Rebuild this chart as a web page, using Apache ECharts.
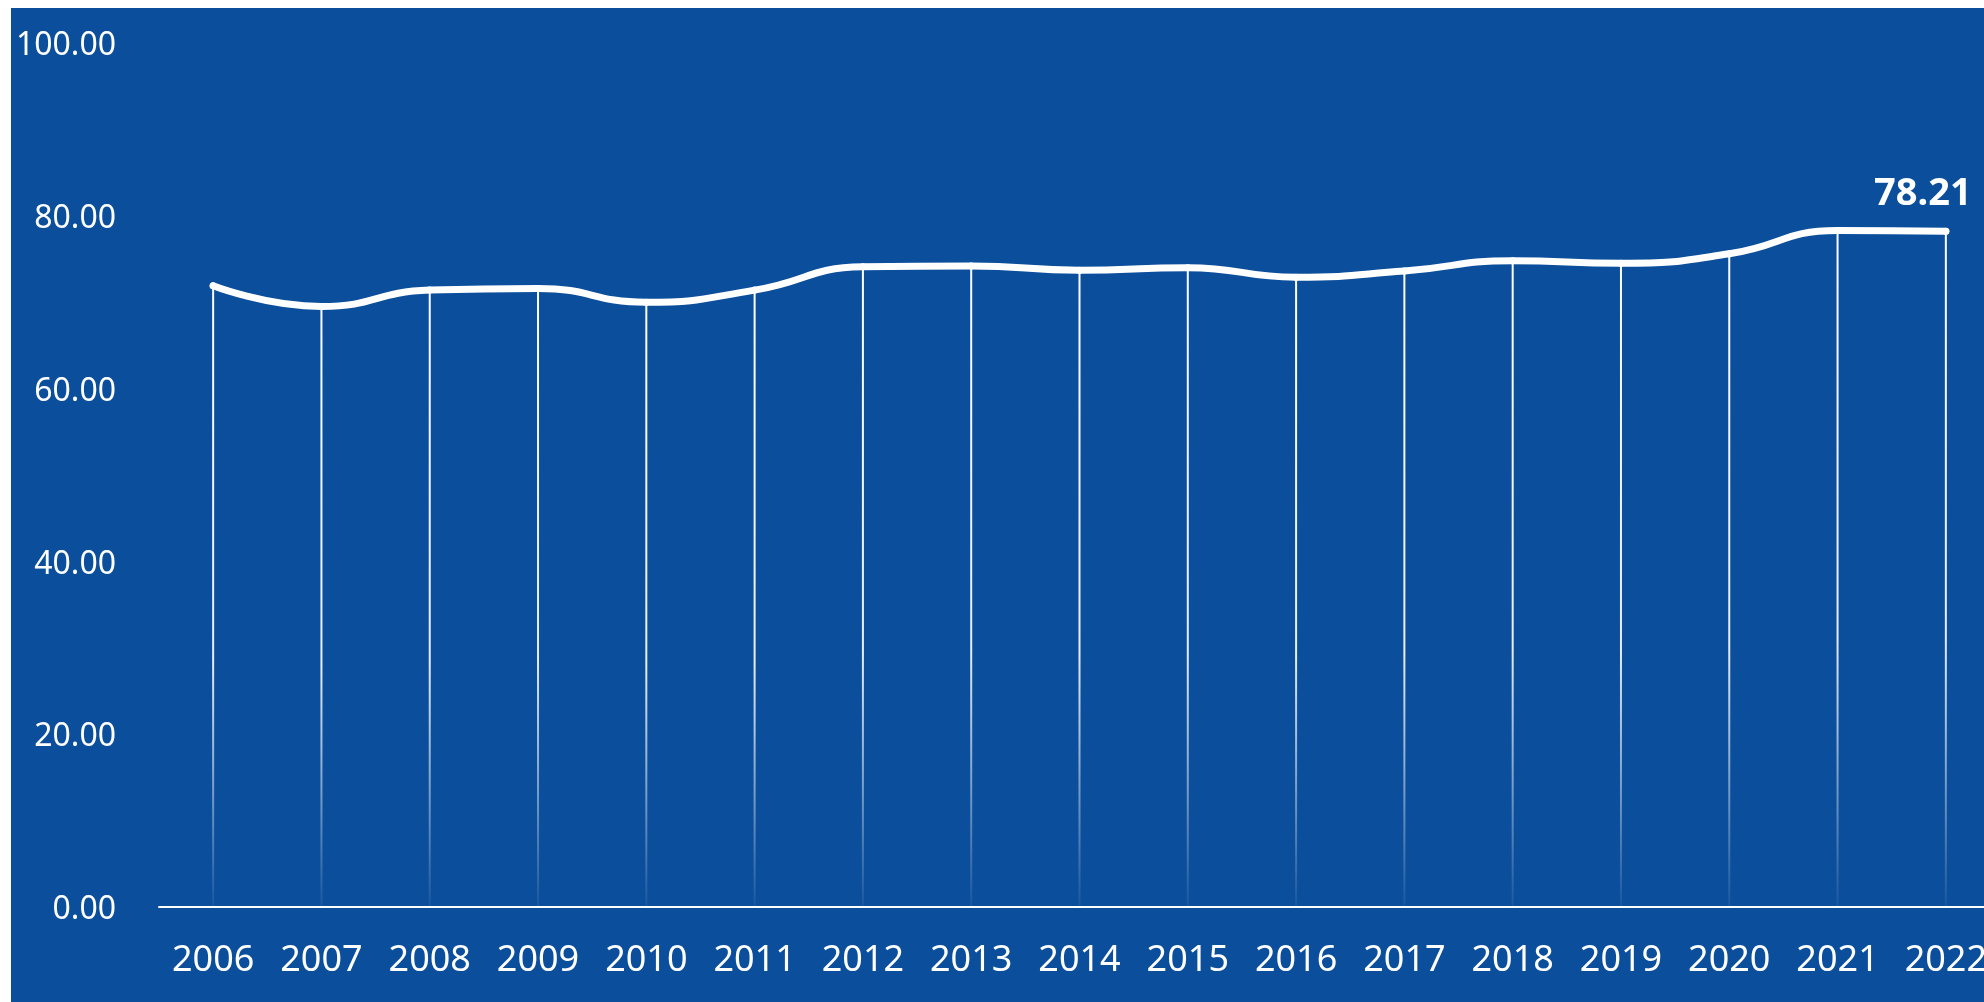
<!DOCTYPE html>
<html>
<head>
<meta charset="utf-8">
<script src="https://cdn.jsdelivr.net/npm/echarts@6/dist/echarts.min.js"></script>
<style>
  html, body { margin: 0; padding: 0; background: #fff; overflow: hidden; width: 1984px; height: 1002px; }
  #chart { position: absolute; left: 11px; top: 8px; width: 1973px; height: 994px; }
</style>
</head>
<body>
<div id="chart"></div>
<script>
const years = ['2006', '2007', '2008', '2009', '2010', '2011', '2012', '2013', '2014', '2015', '2016', '2017', '2018', '2019', '2020', '2021', '2022']
const values = [71.9, 69.5, 71.4, 71.6, 70.0, 71.4, 74.1, 74.2, 73.7, 74.0, 72.9, 73.6, 74.8, 74.5, 75.6, 78.3, 78.21]

const chart = echarts.init(document.getElementById('chart'))

// only the last point gets its value written above it
const lineData = values.map((v, i) => i === values.length - 1
  ? {
      value: v,
      label: {
        show: true,
        position: 'top',
        offset: [-23, -10],
        color: '#fff',
        fontSize: 38,
        fontWeight: 'bold',
        fontFamily: 'Noto Sans',
        formatter: '{c}',
      },
    }
  : v)

const option = {
  backgroundColor: '#0b4e9b',
  animation: false,
  grid: {
    left: 148,
    top: 35,
    width: 1841,
    height: 864,
    outerBoundsMode: 'none',
    containLabel: false,
  },
  xAxis: {
    type: 'category',
    data: years,
    boundaryGap: true,
    axisLine: { lineStyle: { color: '#fff', width: 2 } },
    axisTick: { show: false },
    axisLabel: {
      color: '#fff',
      fontSize: 36,
      fontFamily: 'Noto Sans',
      margin: 36,
      interval: 0,
    },
    splitLine: { show: false },
  },
  yAxis: {
    type: 'value',
    min: 0,
    max: 100,
    interval: 20,
    axisLine: { show: false },
    axisTick: { show: false },
    splitLine: { show: false },
    axisLabel: {
      color: '#fff',
      fontSize: 32,
      fontFamily: 'Noto Sans',
      margin: 43,
      verticalAlign: 'top',
      lineHeight: 6,
      formatter: v => v.toFixed(2),
    },
  },
  series: [
    {
      type: 'bar',
      data: values,
      barWidth: 2,
      z: 1,
      itemStyle: {
        color: new echarts.graphic.LinearGradient(0, 0, 0, 1, [
          { offset: 0, color: 'rgba(255,255,255,1)' },
          { offset: 0.6, color: 'rgba(255,255,255,0.9)' },
          { offset: 1, color: 'rgba(255,255,255,0.05)' },
        ]),
      },
    },
    {
      type: 'line',
      data: lineData,
      smooth: true,
      symbol: 'circle',
      symbolSize: 7,
      showSymbol: true,
      z: 3,
      itemStyle: { color: '#fff' },
      lineStyle: { color: '#fff', width: 7, cap: 'round' },
    },
  ],
}

chart.setOption(option)
</script>
</body>
</html>
